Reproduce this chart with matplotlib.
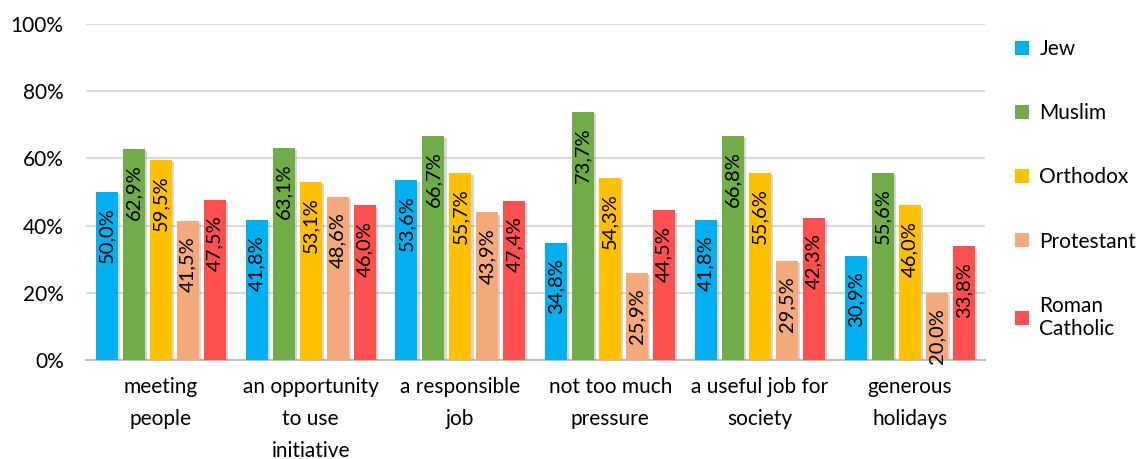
import matplotlib
matplotlib.use("Agg")
import matplotlib.pyplot as plt
import numpy as np
from matplotlib import patheffects as pe

categories = ["meeting\npeople", "an opportunity\nto use\ninitiative", "a responsible\njob",
              "not too much\npressure", "a useful job for\nsociety", "generous\nholidays"]
series = ["Jew", "Muslim", "Orthodox", "Protestant", "Roman\nCatholic"]
jew = [50.0, 41.8, 53.6, 34.8, 41.8, 30.9]
muslim = [62.9, 63.1, 66.7, 73.7, 66.8, 55.6]
orthodox = [59.5, 53.1, 55.7, 54.3, 55.6, 46.0]
protestant = [41.5, 48.6, 43.9, 25.9, 29.5, 20.0]
roman_catholic = [47.5, 46.0, 47.4, 44.5, 42.3, 33.8]
values = [jew, muslim, orthodox, protestant, roman_catholic]
colors = ["#00B0F0", "#70AD47", "#FFC000", "#F4A97A", "#FF5050"]
yticks = [0, 20, 40, 60, 80, 100]

plt.rcParams['font.family'] = ['Lato', 'DejaVu Sans']
fig = plt.figure(figsize=(11.37, 4.59), dpi=100)
ax = fig.add_axes([0.0756, 0.2157, 0.866 - 0.0756, 0.9477 - 0.2157])

x = np.arange(len(categories))
step = 0.18
width = 0.147
handles = []
for k, (vals, col, name) in enumerate(zip(values, colors, series)):
    pos = x + (k - 2) * step
    bars = ax.bar(pos, vals, width, color=col, label=name, zorder=3,
                  path_effects=[pe.SimplePatchShadow(offset=(1.5, -1.5), shadow_rgbFace='#999999', alpha=0.4), pe.Normal()])
    handles.append(bars)
    for p, v in zip(pos, vals):
        ax.annotate(f"{v:.1f}%".replace('.', ','), xy=(p, v), xytext=(0, -11),
                    textcoords='offset points', rotation=90, ha='center', va='top',
                    fontsize=14.5, color='black', zorder=4)

ax.set_xlim(-0.5, len(categories) - 0.5)
ax.set_ylim(0, 100)
ax.set_yticks(yticks)
ax.set_yticklabels([f"{t}%" for t in yticks], fontsize=15)
ax.set_xticks(x)
ax.set_xticklabels(categories, fontsize=15, linespacing=1.75, va='top')
ax.tick_params(axis='y', length=0, pad=16)
ax.tick_params(axis='x', length=0, pad=12)
ax.grid(axis='y', color='#D9D9D9', linewidth=1.5, zorder=0)
for s in ['top', 'right', 'left']:
    ax.spines[s].set_visible(False)
ax.spines['bottom'].set_color('#BFBFBF')
ax.spines['bottom'].set_linewidth(1.5)

leg = ax.legend(handles=handles, loc='upper left', bbox_to_anchor=(1.025, 0.98),
                frameon=False, fontsize=15, handlelength=0.65, handleheight=0.65,
                handletextpad=0.5, labelspacing=2.12, borderaxespad=0)
for h in leg.legend_handles:
    h.set_path_effects([])

fig.savefig("out.png", dpi=100)
